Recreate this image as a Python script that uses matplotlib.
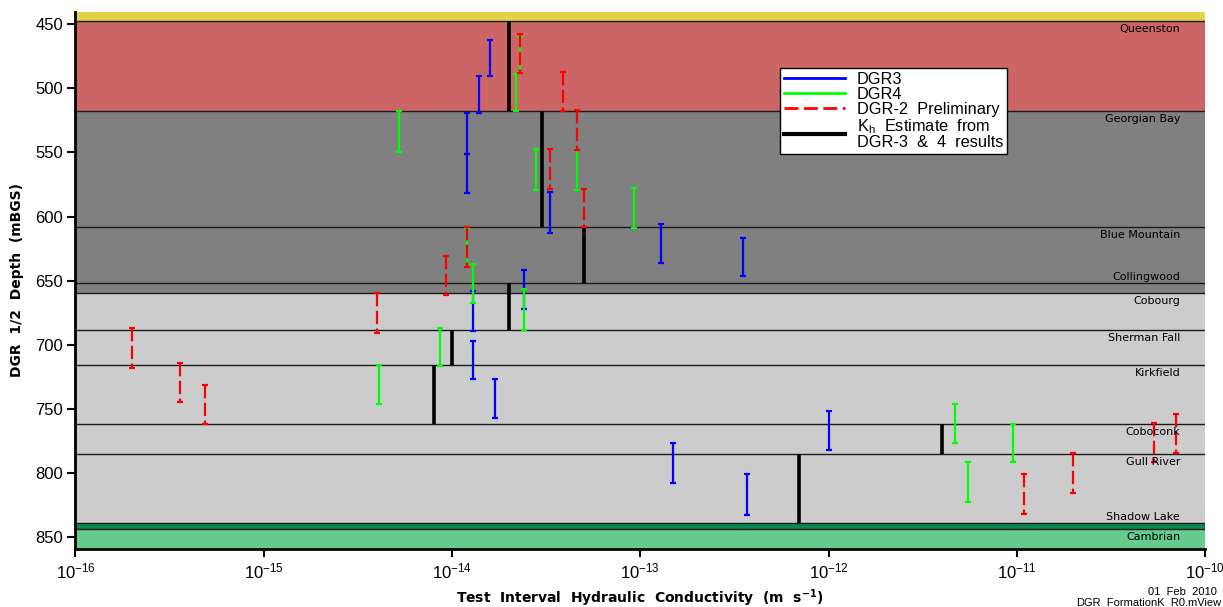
import numpy as np
import matplotlib
matplotlib.use('Agg')
import matplotlib.pyplot as plt
from matplotlib.lines import Line2D
import matplotlib.transforms as mtransforms

# formations (top depth, mBGS) and the Kh estimate per formation
formations = ['', 'Queenston', 'Georgian Bay', 'Blue Mountain', 'Collingwood', 'Cobourg',
              'Sherman Fall', 'Kirkfield', 'Coboconk', 'Gull River', 'Shadow Lake', 'Cambrian']
form_tops = [440.4, 447.4, 517.7, 608.4, 651.6, 659.4, 688.8, 715.9, 762.2, 785.4, 839.1, 844.0]
form_bottom = 859.4
kh_estimate = [np.nan, 2.0e-14, 3.0e-14, 5.0e-14, 2.0e-14, 2.0e-14, 1.0e-14, 8.0e-15,
               4.0e-12, 7.0e-13, np.nan, np.nan]
form_colors = ['#E4D24A', '#CC6666', '#808080', '#808080', '#808080', '#CCCCCC', '#CCCCCC',
               '#CCCCCC', '#CCCCCC', '#CCCCCC', '#078A50', '#66CC8E']

# test intervals: conductivity, top depth, bottom depth
dgr3_k = [1.6e-14, 1.39e-14, 1.2e-14, 1.2e-14, 3.3e-14, 2.4e-14, 1.3e-14, 1.3e-14, 1.69e-14,
          1.29e-13, 3.5e-13, 1.5e-13, 3.7e-13, 1.0e-12]
dgr3_top = [462, 490, 519, 551, 581, 642, 658, 697, 726.5, 606, 616.5, 776.5, 801, 752]
dgr3_bot = [490, 519.5, 551, 582, 613, 672.5, 689, 727, 757.5, 636.5, 646.5, 808, 833, 782.5]

dgr4_k = [5.2e-15, 2.18e-14, 2.3e-14, 2.8e-14, 4.6e-14, 9.3e-14, 1.2e-14, 1.3e-14, 2.4e-14,
          8.65e-15, 4.1e-15, 4.7e-12, 9.5e-12, 5.5e-12]
dgr4_top = [517.7, 489, 460, 547.6, 548, 577.5, 609, 637, 656.5, 687, 716, 746, 761.5, 791.5]
dgr4_bot = [549.7, 518, 488, 579.3, 579.3, 609, 639, 667.5, 688.5, 717, 746.5, 777, 791.5, 823]

dgr2_k = [2.3e-14, 3.88e-14, 4.6e-14, 3.3e-14, 5.0e-14, 1.2e-14, 9.35e-15, 4.0e-15, 2.0e-16,
          3.6e-16, 4.9e-16, 1.09e-11, 1.98e-11, 5.36e-11, 6.98e-11]
dgr2_top = [457.6, 487.2, 517, 547.6, 578.3, 608.4, 630.6, 660, 687.2, 714.1, 731.5, 801.2,
            784.3, 761, 754]
dgr2_bot = [488.2, 517.7, 548, 578.5, 608.4, 639, 661, 691, 718.2, 745, 762, 832, 815.5,
            791.6, 784.8]

plt.rcParams['font.family'] = ['Liberation Sans', 'DejaVu Sans']
plt.rcParams['mathtext.default'] = 'regular'

fig = plt.figure(figsize=(12.23, 6.07), dpi=100)
ax = fig.add_axes([0.0617, 0.0956, 0.9236, 0.8846])

# formation bands
bottoms = form_tops[1:] + [form_bottom]
for i in range(len(formations)):
    ax.axhspan(form_tops[i], bottoms[i], color=form_colors[i], lw=0, zorder=0)
    if i > 0:
        ax.axhline(form_tops[i], color='#1a1a1a', lw=1.0, zorder=1)

# formation names, right side
trans = mtransforms.blended_transform_factory(ax.transAxes, ax.transData)
for i in range(1, len(formations)):
    thick = bottoms[i] - form_tops[i]
    y = form_tops[i] + 6.2 if thick > 10 else form_tops[i] - 4.5
    ax.text(0.978, y, formations[i], transform=trans, ha='right', va='center',
            fontsize=8, family='DejaVu Sans', zorder=5)

# Kh estimates
for i in range(len(formations)):
    if not np.isnan(kh_estimate[i]):
        ax.vlines(kh_estimate[i], form_tops[i], bottoms[i], color='black', lw=2.6, zorder=2)


def interval_bars(k, top, bot, color, dashed=False, z=3):
    top = np.array(top)
    bot = np.array(bot)
    eb = ax.errorbar(k, (top + bot) / 2, yerr=(bot - top) / 2, fmt='none', ecolor=color,
                     elinewidth=1.6, capsize=2, capthick=1.6, zorder=z)
    if dashed:
        eb[2][0].set_linestyle((0, (6, 2)))


interval_bars(dgr3_k, dgr3_top, dgr3_bot, '#0000FF', z=3)
interval_bars(dgr4_k, dgr4_top, dgr4_bot, '#00FF00', z=4)
interval_bars(dgr2_k, dgr2_top, dgr2_bot, '#FF0000', dashed=True, z=4.5)

ax.set_xscale('log')
ax.set_xlim(1e-16, 1e-10)
ax.set_ylim(form_bottom, form_tops[0])
ax.set_xticks([1e-16, 1e-15, 1e-14, 1e-13, 1e-12, 1e-11, 1e-10])
ax.set_xticklabels(['$10^{-16}$', '$10^{-15}$', '$10^{-14}$', '$10^{-13}$', '$10^{-12}$',
                    '$10^{-11}$', '$10^{-10}$'])
ax.xaxis.set_minor_locator(matplotlib.ticker.NullLocator())
ax.set_yticks([450, 500, 550, 600, 650, 700, 750, 800, 850])
ax.tick_params(direction='out', length=6, width=1.5, labelsize=12, pad=3)

for s in ['top', 'right']:
    ax.spines[s].set_visible(False)
for s in ['left', 'bottom']:
    ax.spines[s].set_linewidth(2)

ax.set_ylabel('DGR  1/2  Depth  (mBGS)', family='DejaVu Sans', fontweight='bold', fontsize=10,
              labelpad=8)
ax.set_xlabel('Test  Interval  Hydraulic  Conductivity  (m  s$^{-1}$)', family='DejaVu Sans',
              fontweight='bold', fontsize=10, labelpad=4)

handles = [Line2D([], [], color='#0000FF', lw=2),
           Line2D([], [], color='#00FF00', lw=2),
           Line2D([], [], color='#FF0000', lw=2, ls=(0, (5, 2))),
           Line2D([], [], color='black', lw=3)]
labels = ['DGR3', 'DGR4', 'DGR-2  Preliminary', 'K$_h$  Estimate  from\nDGR-3  &  4  results']
leg = ax.legend(handles, labels, loc='upper left', bbox_to_anchor=(0.624, 0.896),
                borderaxespad=0, fontsize=11.8, frameon=True, fancybox=False, framealpha=1,
                edgecolor='black', handlelength=3.7, handletextpad=0.7, labelspacing=0.0,
                borderpad=0.25)
leg.get_frame().set_linewidth(1)
leg.set_zorder(10)
for t in leg.get_texts():
    t.set_linespacing(0.95)

fig.text(1217 / 1223, 1 - 591.7 / 607, '01  Feb  2010', ha='right', va='center', fontsize=8)
fig.text(1221 / 1223, 1 - 602 / 607, 'DGR_FormationK_R0.mView', ha='right', va='center',
         fontsize=8)

fig.savefig('out.png', dpi=100)
